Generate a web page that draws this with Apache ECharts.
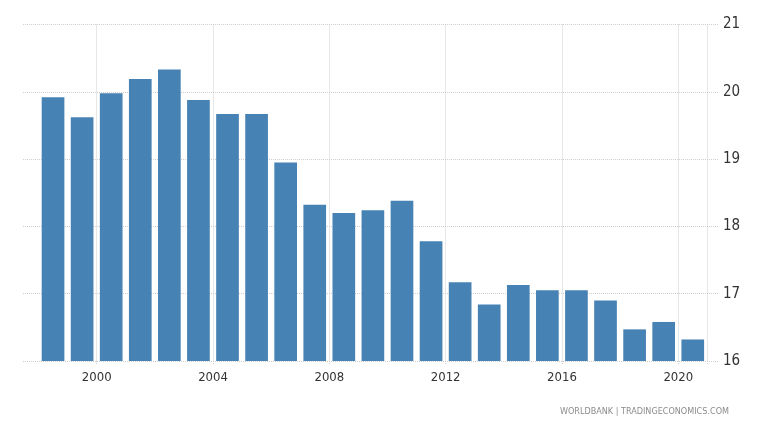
<!DOCTYPE html>
<html>
<head>
<meta charset="utf-8">
<script src="https://cdn.jsdelivr.net/npm/echarts@6/dist/echarts.min.js"></script>
<style>html,body{margin:0;padding:0;background:#fff;}#c{width:768px;height:432px;}</style>
</head>
<body>
<div id="c"></div>
<script>
var years = ['1998','1999','2000','2001','2002','2003','2004','2005','2006','2007','2008','2009','2010','2011','2012','2013','2014','2015','2016','2017','2018','2019','2020'];
var values = [19.92,19.62,19.98,20.19,20.33,19.88,19.67,19.67,18.95,18.32,18.20,18.24,18.38,17.78,17.17,16.84,17.13,17.05,17.05,16.90,16.47,16.58,16.32];
var yMin = 16, yMax = 21, yStep = 1;
var labelEvery = 4;
var source = 'WORLDBANK | TRADINGECONOMICS.COM';

var FONT = '"Liberation Sans Narrow", "DejaVu Sans Condensed", "Liberation Sans", sans-serif';
var GRID_COLOR = '#cfcfcf';
function shown(i, v) { return Number(v) % labelEvery === 0; }

var chart = echarts.init(document.getElementById('c'), null, {renderer: 'canvas'});
chart.setOption({
  animation: false,
  backgroundColor: '#ffffff',
  grid: [
    {left: 23, right: 50, top: 24.5, bottom: 71},
    {left: 38.5, right: 60.7, top: 24.5, bottom: 71}
  ],
  xAxis: [
    {gridIndex: 0, type: 'value', min: 0, max: 1, show: false},
    {
      gridIndex: 1, type: 'category', data: years, boundaryGap: true,
      axisLine: {show: false},
      axisTick: {show: true, interval: shown, length: 4, lineStyle: {color: GRID_COLOR, type: 'dotted'}},
      splitLine: {show: true, interval: shown, lineStyle: {color: GRID_COLOR, type: 'dotted', width: 1}},
      axisLabel: {interval: shown, color: '#333', fontFamily: FONT, fontSize: 13, margin: 10, padding: [0, 29, 0, 0]}
    }
  ],
  yAxis: [
    {
      gridIndex: 0, type: 'value', position: 'right', min: yMin, max: yMax, interval: yStep,
      axisLine: {show: false}, axisTick: {show: false},
      splitLine: {show: true, lineStyle: {color: GRID_COLOR, type: 'dotted', width: 1}},
      axisLabel: {color: '#333', fontFamily: FONT, fontSize: 15, margin: 5}
    },
    {gridIndex: 1, type: 'value', min: yMin, max: yMax, interval: yStep, show: false, splitLine: {show: false}}
  ],
  series: [{
    type: 'bar', xAxisIndex: 1, yAxisIndex: 1, data: values,
    barCategoryGap: '22%',
    itemStyle: {color: '#4682b4'}
  }],
  graphic: [{
    type: 'text', right: 39, top: 407,
    style: {text: source, fill: '#8c8c8c', font: '9px ' + FONT}
  }]
});
</script>
</body>
</html>
